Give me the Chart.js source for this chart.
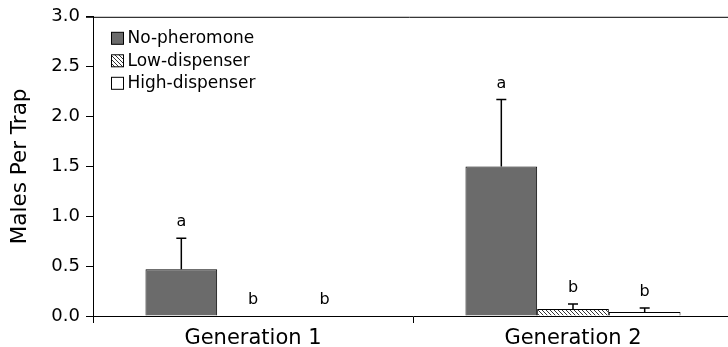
<!DOCTYPE html>
<html>
<head>
<meta charset="utf-8">
<script src="https://cdn.jsdelivr.net/npm/chart.js@4"></script>
<style>
  html, body { margin: 0; padding: 0; background: #fff; overflow: hidden; width: 728px; height: 347px; }
  #wrap { width: 740px; height: 347px; }
</style>
</head>
<body>
<div id="wrap"><canvas id="c" width="740" height="347"></canvas></div>
<script>
// Trap catches per generation and treatment
const categories = ['Generation 1', 'Generation 2'];
const seriesNames = ['No-pheromone', 'Low-dispenser', 'High-dispenser'];
const noPheromone = [0.47, 1.50];
const lowDispenser = [0, 0.07];
const highDispenser = [0, 0.04];
// standard errors (upper whisker only)
const noPheromoneSE = [0.31, 0.67];
const lowDispenserSE = [0, 0.05];
const highDispenserSE = [0, 0.04];
// mean separation letters
const noPheromoneLetters = ['a', 'a'];
const lowDispenserLetters = ['b', 'b'];
const highDispenserLetters = ['b', 'b'];
const yTicks = [0, 0.5, 1.0, 1.5, 2.0, 2.5, 3.0];

const FONT = "'DejaVu Sans', sans-serif";

function hatchPattern() {
  const t = document.createElement('canvas');
  t.width = 4; t.height = 4;
  const g = t.getContext('2d');
  g.fillStyle = '#fff';
  g.fillRect(0, 0, 4, 4);
  g.strokeStyle = '#333';
  g.lineWidth = 1;
  g.beginPath();
  g.moveTo(-1, -1); g.lineTo(5, 5);
  g.moveTo(-1, 3); g.lineTo(1, 5);
  g.moveTo(3, -1); g.lineTo(5, 1);
  g.stroke();
  return g.createPattern(t, 'repeat');
}

const ctx = document.getElementById('c').getContext('2d');

const errorBars = {
  id: 'errorBars',
  afterDatasetsDraw(chart) {
    const c = chart.ctx;
    const y = chart.scales.y;
    chart.data.datasets.forEach((ds, i) => {
      const meta = chart.getDatasetMeta(i);
      meta.data.forEach((bar, j) => {
        const v = ds.data[j];
        const se = ds.se[j];
        let topVal = v;
        if (se > 0) {
          const yTop = y.getPixelForValue(v + se);
          const yBar = y.getPixelForValue(v);
          c.save();
          c.strokeStyle = '#000';
          c.lineWidth = 1.5;
          c.beginPath();
          c.moveTo(bar.x, yBar);
          c.lineTo(bar.x, yTop);
          c.moveTo(bar.x - 5, yTop);
          c.lineTo(bar.x + 5, yTop);
          c.stroke();
          c.restore();
          topVal = v + se;
        }
        c.save();
        c.fillStyle = '#000';
        c.font = '16px ' + FONT;
        c.textAlign = 'center';
        c.textBaseline = 'alphabetic';
        c.fillText(ds.letters[j], bar.x, y.getPixelForValue(topVal) - 12);
        c.restore();
      });
    });
  }
};

const frameAndLegend = {
  id: 'frameAndLegend',
  afterDraw(chart) {
    const c = chart.ctx;
    const a = chart.chartArea;
    c.save();
    c.strokeStyle = '#000';
    c.lineWidth = 1;
    c.beginPath();
    c.moveTo(a.left - 7, a.top + 0.5);
    c.lineTo(a.right, a.top + 0.5);
    c.stroke();
    // legend
    c.font = '17px ' + FONT;
    c.textBaseline = 'middle';
    c.textAlign = 'left';
    chart.data.datasets.forEach((ds, i) => {
      const bx = a.left + 18.5, by = a.top + 15.5 + i * 22.5;
      c.fillStyle = ds.backgroundColor;
      c.fillRect(bx, by, 12, 12);
      c.strokeStyle = '#000';
      c.lineWidth = 1;
      c.strokeRect(bx, by, 12, 12);
      c.fillStyle = '#000';
      c.fillText(ds.label, bx + 16, by + 6.5);
    });
    c.restore();
  }
};

new Chart(ctx, {
  type: 'bar',
  data: {
    labels: categories,
    datasets: [
      { label: seriesNames[0], data: noPheromone, se: noPheromoneSE, letters: noPheromoneLetters,
        backgroundColor: '#6b6b6b', borderColor: '#000', borderWidth: 1 },
      { label: seriesNames[1], data: lowDispenser, se: lowDispenserSE, letters: lowDispenserLetters,
        backgroundColor: hatchPattern(), borderColor: '#000', borderWidth: 1 },
      { label: seriesNames[2], data: highDispenser, se: highDispenserSE, letters: highDispenserLetters,
        backgroundColor: '#fff', borderColor: '#000', borderWidth: 1 }
    ]
  },
  options: {
    responsive: false,
    animation: false,
    devicePixelRatio: 1,
    layout: { padding: { top: 16, right: 7, left: 0, bottom: 0 } },
    datasets: { bar: { categoryPercentage: 0.672, barPercentage: 1.0, borderSkipped: 'start' } },
    plugins: { legend: { display: false }, tooltip: { enabled: false } },
    scales: {
      x: {
        grid: { display: true, drawOnChartArea: false, drawTicks: true, tickLength: 7, color: '#000', offset: true },
        border: { display: true, color: '#000', width: 1 },
        ticks: { color: '#000', font: { family: FONT, size: 21 }, padding: 3, maxRotation: 0 },
        afterFit(s) { s.height = 31; }
      },
      y: {
        min: 0, max: 3,
        afterBuildTicks(s) { s.ticks = yTicks.map(v => ({ value: v })); },
        grid: { display: true, drawOnChartArea: false, drawTicks: true, tickLength: 7, color: '#000' },
        border: { display: true, color: '#000', width: 1 },
        ticks: { color: '#000', font: { family: FONT, size: 18 }, padding: 6, callback: v => Number(v).toFixed(1) },
        title: { display: true, text: 'Males Per Trap', color: '#000', font: { family: FONT, size: 21.5 }, padding: { top: 8, bottom: 0 } },
        afterFit(s) { s.width = 93; }
      }
    }
  },
  plugins: [errorBars, frameAndLegend]
});
</script>
</body>
</html>
